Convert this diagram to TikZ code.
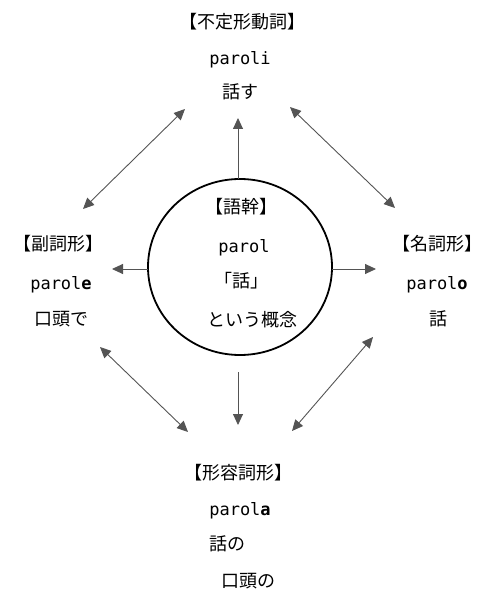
\documentclass[tikz,border=0pt]{standalone}
\usepackage{fontspec}
\setmainfont{Noto Sans CJK JP}
\newfontfamily\monofnt{DejaVu Sans Mono}
\usetikzlibrary{arrows.meta,shapes.geometric}
\definecolor{arrgray}{rgb}{0.33,0.33,0.33}
\tikzset{
  lbl/.style={anchor=base, inner sep=0pt, font=\fontsize{18}{20}\selectfont},
  lat/.style={anchor=base, inner sep=0pt, font=\fontsize{17}{20}\selectfont\monofnt},
  arr/.style={draw=arrgray, line width=0.9pt, -{Triangle[length=11pt,width=10pt]}, fill=arrgray},
  darr/.style={draw=arrgray, line width=0.9pt, {Triangle[length=11pt,width=10pt]}-{Triangle[length=11pt,width=10pt]}},
  core/.style={draw, ellipse, line width=1.8pt, minimum width=184pt, minimum height=176pt, inner sep=0pt}
}
\begin{document}
\begin{tikzpicture}[x=1pt,y=-1pt]
\useasboundingbox (0,0) rectangle (481,593);
% central circle
\node[core] (c) at (240,267) {};
\node[lbl] (c1) at (241,214) {【語幹】};
\node[lat] (c2) at (244,252) {parol};
\node[lbl] (c3) at (241,287) {「話」};
\node[lbl] (c4) at (252,326) {という概念};
% top
\node[lbl] (t1) at (242,29) {【不定形動詞】};
\node[lat] (t2) at (240,65) {paroli};
\node[lbl] (t3) at (240,99) {話す};
% left
\node[lbl] (l1) at (58,251) {【副詞形】};
\node[lat] (l2) at (61,289) {parol\textbf{e}};
\node[lbl] (l3) at (61,325) {口頭で};
% right
\node[lbl] (r1) at (437,251) {【名詞形】};
\node[lat] (r2) at (437,289) {parol\textbf{o}};
\node[lbl] (r3) at (438,325) {話};
% bottom
\node[lbl] (b1) at (238,479) {【形容詞形】};
\node[lat] (b2) at (240,515) {parol\textbf{a}};
\node[lbl] (b3) at (227,550) {話の};
\node[lbl] (b4) at (248,587) {口頭の};
% arrow end points
\coordinate (topS) at (238,179);
\coordinate (topE) at (238,118);
\coordinate (botS) at (238,372);
\coordinate (botE) at (238,425);
\coordinate (lefS) at (148,269);
\coordinate (lefE) at (112,269);
\coordinate (rigS) at (332,269);
\coordinate (rigE) at (376,269);
\coordinate (ulA) at (185,109);
\coordinate (ulB) at (83,209);
\coordinate (urA) at (290,107);
\coordinate (urB) at (395,208);
\coordinate (llA) at (100,347);
\coordinate (llB) at (188,432);
\coordinate (lrA) at (373,337);
\coordinate (lrB) at (292,431);
\draw[arr] (topS) -- (topE);
\draw[arr] (botS) -- (botE);
\draw[arr] (lefS) -- (lefE);
\draw[arr] (rigS) -- (rigE);
\draw[darr] (ulA) -- (ulB);
\draw[darr] (urA) -- (urB);
\draw[darr] (llA) -- (llB);
\draw[darr] (lrA) -- (lrB);
\end{tikzpicture}
\end{document}
